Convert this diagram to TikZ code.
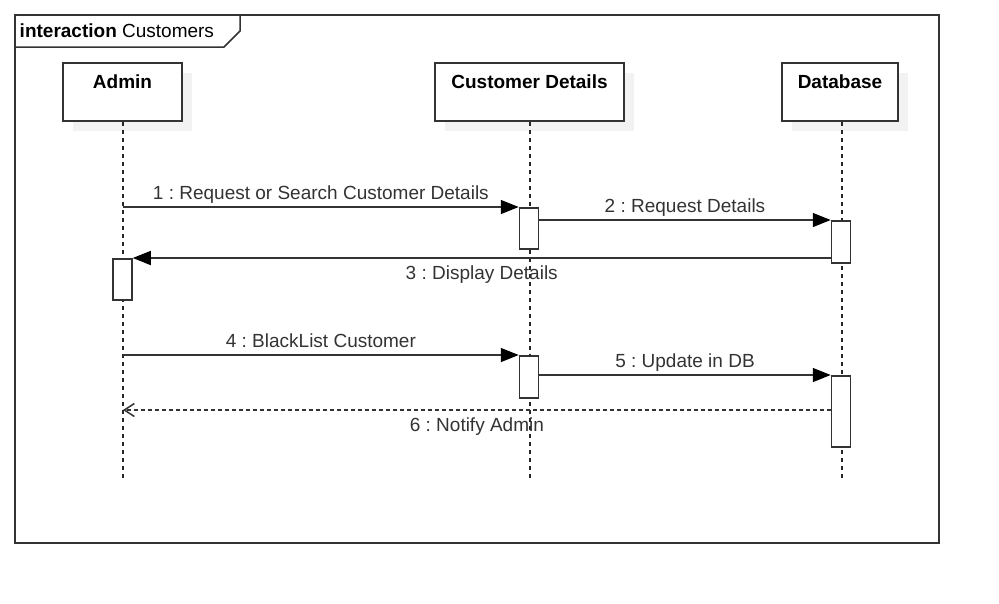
\documentclass[tikz,border=0pt]{standalone}
\usepackage{fontspec}
\setmainfont{Liberation Sans}
\usepackage{xcolor}
\usetikzlibrary{arrows.meta,calc,positioning,shadows}

\definecolor{umlline}{HTML}{333333}
\definecolor{umlshade}{HTML}{F2F2F2}
\frenchspacing

\begin{document}
\begin{tikzpicture}[x=1pt, y=-1pt, line width=1.5pt, draw=umlline,
    font=\fontsize{19}{23}\selectfont,
    headbox/.style={draw=umlline, fill=white, inner sep=0pt,
        drop shadow={shadow xshift=10pt, shadow yshift=-10pt, fill=umlshade, opacity=1}},
    actbox/.style={draw=umlline, fill=white, inner sep=0pt, minimum width=19pt},
    lifeline/.style={line width=1.2pt, draw=black!85, dash pattern=on 4pt off 4pt},
    msg/.style={-{Triangle[length=18pt, width=14pt, color=black]}},
    reply/.style={dash pattern=on 4pt off 3pt, -{Straight Barb[length=10pt, width=13pt]}},
    labup/.style={anchor=base, yshift=8pt, text=umlline, inner sep=0pt},
    labdown/.style={anchor=base, yshift=-21pt, text=umlline, inner sep=0pt}]

    \useasboundingbox (0,0) rectangle (999,603);

    % frame
    \draw (15,15) rectangle (939,543);
    \draw (15,47) -- (224,47) -- (240,31) -- (240,15);
    \node[anchor=base west, inner sep=0pt] (tag) at (19,37) {\textbf{interaction} Customers};

    % lifeline heads
    \node[headbox, minimum width=119pt, minimum height=58pt] (admin) at (122.5,92) {};
    \node[headbox, minimum width=189pt, minimum height=58pt] (cust) at (529.5,92) {};
    \node[headbox, minimum width=116pt, minimum height=58pt] (db) at (840,92) {};
    \node[anchor=base, inner sep=0pt] (admintxt) at ($(admin.north)+(0,26)$) {\textbf{Admin}};
    \node[anchor=base, inner sep=0pt] (custtxt) at ($(cust.north)+(0,26)$) {\textbf{Customer Details}};
    \node[anchor=base, inner sep=0pt] (dbtxt) at ($(db.north)+(0,26)$) {\textbf{Database}};

    % lifelines
    \coordinate (adminend) at (123,478);
    \coordinate (custend) at (530,478);
    \coordinate (dbend) at (842,478);
    \draw[lifeline] (admin.south -| adminend) -- (adminend);
    \draw[lifeline] (cust.south -| custend) -- (custend);
    \draw[lifeline] (db.south -| dbend) -- (dbend);

    % activations
    \node[actbox, minimum height=41pt, anchor=north] (act1) at (529,207) {};
    \node[actbox, minimum height=42pt, anchor=north] (act2) at (841,220) {};
    \node[actbox, minimum height=41pt, anchor=north] (act0) at (122.5,258) {};
    \node[actbox, minimum height=42pt, anchor=north] (act3) at (529,355) {};
    \node[actbox, minimum height=71pt, anchor=north] (act4) at (841,375) {};

    % messages
    \draw[msg] (adminend |- act1.north) -- node[labup] {1 : Request or Search Customer Details} (act1.north west);
    \draw[msg] (act1.east |- act2.north) -- node[labup] {2 : Request Details} (act2.north west);
    \draw[msg] (act2.west |- act0.north) -- node[labdown] {3 : Display Details} (act0.north east);
    \draw[msg] (adminend |- act3.north) -- node[labup] {4 : BlackList Customer} (act3.north west);
    \draw[msg] (act3.east |- act4.north) -- node[labup] {5 : Update in DB} (act4.north west);
    \draw[reply] (act4.west |- 0,410) -- node[labdown] {6 : Notify Admin} (adminend |- 0,410);

\end{tikzpicture}
\end{document}
